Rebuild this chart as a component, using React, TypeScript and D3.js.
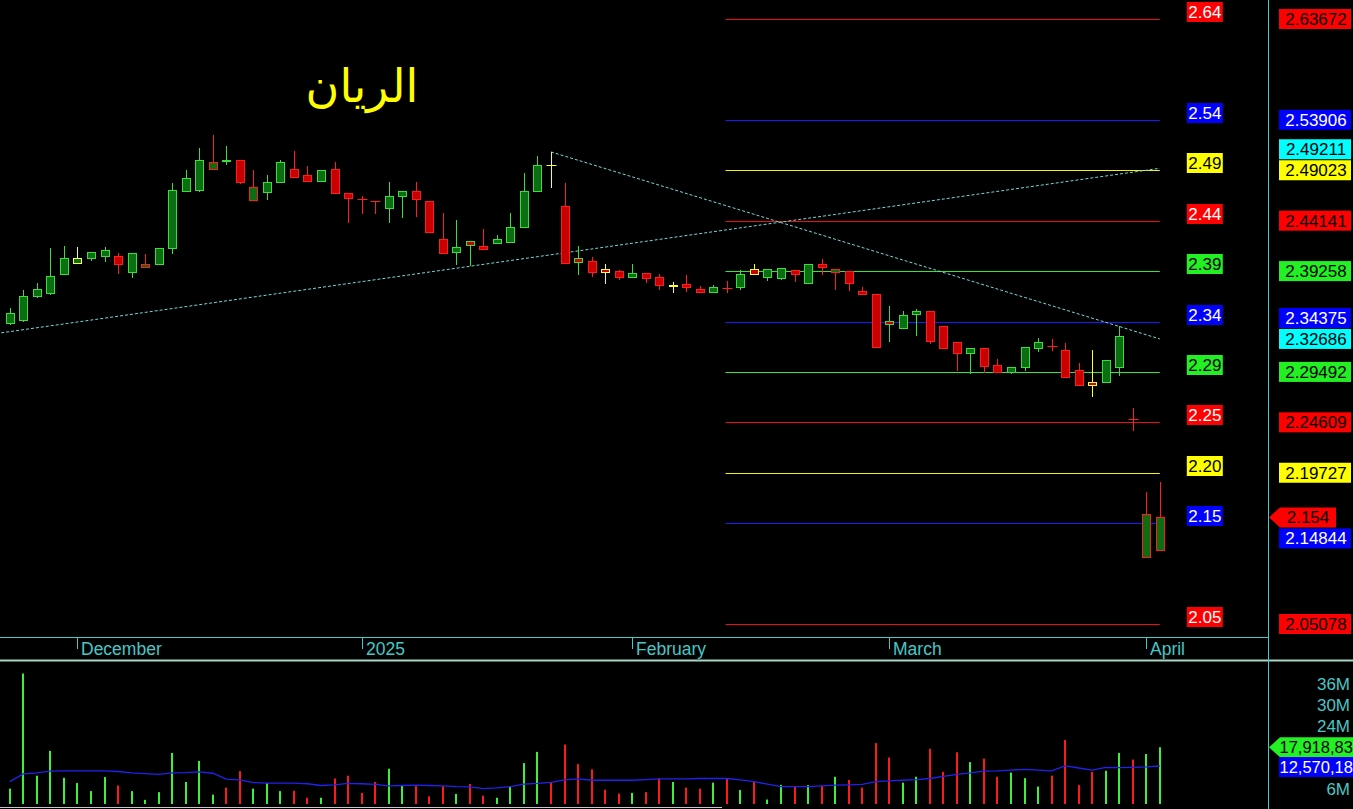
import React, { useEffect } from "react";
import * as d3 from "d3";

const W = 1353;
const H = 809;

// Daily OHLC, oldest first
const opens = [
  2.342, 2.345, 2.368, 2.371, 2.39, 2.4, 2.405, 2.407, 2.407, 2.392,
  2.397, 2.399, 2.415, 2.47, 2.471, 2.491, 2.5, 2.5, 2.461, 2.469,
  2.479, 2.491, 2.486, 2.48, 2.491, 2.468, 2.462, 2.46, 2.454, 2.465,
  2.47, 2.46, 2.424, 2.411, 2.422, 2.417, 2.42, 2.421, 2.435, 2.47,
  2.495, 2.456, 2.405, 2.402, 2.395, 2.393, 2.387, 2.391, 2.387, 2.378,
  2.38, 2.375, 2.372, 2.376, 2.377, 2.395, 2.387, 2.386, 2.394, 2.381,
  2.399, 2.392, 2.393, 2.373, 2.37, 2.344, 2.337, 2.351, 2.354, 2.339,
  2.324, 2.313, 2.318, 2.302, 2.295, 2.3, 2.318, 2.32, 2.316, 2.297,
  2.285, 2.285, 2.3, 2.249, 2.116, 2.122,
];
const highs = [
  2.357, 2.374, 2.381, 2.415, 2.417, 2.416, 2.411, 2.416, 2.41, 2.41,
  2.409, 2.415, 2.478, 2.49, 2.512, 2.524, 2.514, 2.5, 2.49, 2.486,
  2.5, 2.509, 2.494, 2.49, 2.498, 2.468, 2.465, 2.46, 2.479, 2.47,
  2.479, 2.46, 2.449, 2.442, 2.422, 2.433, 2.428, 2.449, 2.488, 2.504,
  2.508, 2.478, 2.417, 2.406, 2.399, 2.394, 2.399, 2.391, 2.39, 2.382,
  2.389, 2.378, 2.379, 2.383, 2.394, 2.399, 2.395, 2.396, 2.394, 2.399,
  2.404, 2.395, 2.393, 2.377, 2.37, 2.359, 2.354, 2.356, 2.354, 2.339,
  2.324, 2.318, 2.318, 2.307, 2.3, 2.319, 2.328, 2.327, 2.323, 2.304,
  2.316, 2.306, 2.339, 2.26, 2.179, 2.188,
];
const lows = [
  2.341, 2.344, 2.367, 2.37, 2.39, 2.4, 2.403, 2.402, 2.391, 2.387,
  2.397, 2.399, 2.41, 2.47, 2.47, 2.491, 2.496, 2.478, 2.461, 2.462,
  2.479, 2.484, 2.48, 2.48, 2.468, 2.44, 2.449, 2.449, 2.44, 2.445,
  2.446, 2.43, 2.41, 2.399, 2.398, 2.414, 2.42, 2.421, 2.435, 2.47,
  2.474, 2.4, 2.39, 2.388, 2.381, 2.385, 2.387, 2.382, 2.375, 2.372,
  2.373, 2.372, 2.372, 2.372, 2.375, 2.39, 2.384, 2.385, 2.383, 2.381,
  2.39, 2.375, 2.374, 2.37, 2.319, 2.325, 2.337, 2.331, 2.323, 2.318,
  2.297, 2.294, 2.295, 2.295, 2.294, 2.297, 2.315, 2.316, 2.29, 2.282,
  2.272, 2.285, 2.292, 2.239, 2.116, 2.122,
];
const closes = [
  2.352, 2.368, 2.375, 2.388, 2.405, 2.405, 2.411, 2.413, 2.399, 2.41,
  2.399, 2.415, 2.471, 2.483, 2.5, 2.498, 2.499, 2.479, 2.474, 2.479,
  2.498, 2.484, 2.48, 2.49, 2.468, 2.463, 2.462, 2.46, 2.465, 2.47,
  2.462, 2.43, 2.41, 2.416, 2.418, 2.414, 2.424, 2.435, 2.47, 2.495,
  2.495, 2.4, 2.401, 2.392, 2.392, 2.387, 2.391, 2.386, 2.379, 2.379,
  2.377, 2.372, 2.377, 2.376, 2.39, 2.39, 2.395, 2.396, 2.39, 2.399,
  2.397, 2.395, 2.381, 2.37, 2.319, 2.341, 2.35, 2.354, 2.325, 2.318,
  2.313, 2.318, 2.301, 2.295, 2.3, 2.319, 2.324, 2.32, 2.29, 2.282,
  2.282, 2.306, 2.33, 2.249, 2.157, 2.154,
];

// Daily traded volume, millions of shares
const volumes = [
  6.1, 39.0, 9.8, 16.9, 9.2, 7.7, 5.4, 9.4, 7.0, 5.4,
  2.9, 5.1, 16.3, 8.0, 14.0, 4.4, 6.4, 11.1, 6.1, 7.7,
  5.4, 5.5, 3.5, 3.5, 9.0, 9.8, 4.9, 8.0, 11.8, 6.9,
  6.8, 3.9, 6.8, 4.6, 7.4, 4.1, 3.5, 6.7, 13.4, 16.6,
  7.7, 18.7, 13.1, 11.6, 5.8, 4.7, 4.9, 5.1, 9.0, 8.0,
  6.4, 6.1, 7.8, 8.9, 5.7, 8.1, 3.0, 7.2, 6.9, 7.1,
  6.9, 9.5, 8.6, 6.4, 19.1, 15.0, 7.8, 9.5, 17.5, 10.9,
  16.5, 13.7, 14.7, 9.5, 10.7, 9.1, 6.7, 9.8, 20.0, 7.1,
  10.9, 11.2, 16.3, 14.4, 16.0, 17.91883,
];

// Moving average of volume, millions of shares
const volumeAvg = [
  8.1, 10.3, 10.6, 11.1, 11.2, 11.2, 11.2, 11.2, 11.0, 10.6,
  10.4, 10.2, 10.6, 10.7, 10.9, 10.5, 8.8, 8.6, 7.8, 7.7,
  7.7, 7.7, 7.5, 7.0, 7.2, 7.6, 7.5, 7.3, 6.9, 7.0,
  7.1, 7.0, 6.9, 6.7, 6.6, 6.1, 6.3, 6.7, 7.4, 7.6,
  7.9, 8.6, 8.9, 8.5, 8.5, 8.5, 8.5, 8.7, 8.9, 8.9,
  8.9, 9.0, 9.0, 9.0, 8.6, 8.1, 7.4, 6.7, 6.7, 6.7,
  6.9, 7.1, 7.2, 7.3, 8.1, 8.3, 8.5, 8.7, 9.0, 9.6,
  10.2, 10.6, 11.1, 11.2, 11.4, 11.6, 11.4, 11.2, 12.6, 12.0,
  11.4, 12.2, 12.1, 12.2, 12.3, 12.57018,
];

// Horizontal price levels and their colour keys
const levels = [
  2.63672, 2.53906, 2.49023, 2.44141, 2.39258, 2.34375, 2.29492, 2.24609,
  2.19727, 2.14844, 2.05078,
];
const levelKeys = [
  "red", "blue", "yellow", "red", "green", "blue", "green", "red",
  "yellow", "blue", "red",
];
const levelStart = 52.9;

// Trend lines: [bar index, price]
const supportLine = [[-1, 2.3321], [85, 2.49211]];
const resistanceLine = [[40, 2.508], [85, 2.32686]];

const monthTicks = [5, 26, 46, 65, 84];
const monthLabels = ["December", "2025", "February", "March", "April"];
const volumeTicks = [6, 24, 30, 36];

const title = "الريان";

const lineColor: Record<string, string> = {
  red: "#e81010",
  blue: "#1a1aff",
  yellow: "#f4f400",
  green: "#33e833",
  cyan: "#00ffff",
};
const boxColor: Record<string, string> = {
  red: "#ff0000",
  blue: "#0000ff",
  yellow: "#ffff00",
  green: "#22f022",
  cyan: "#00ffff",
};
const inkOnBox: Record<string, string> = {
  red: "#ffffff",
  blue: "#ffffff",
  yellow: "#000000",
  green: "#000000",
  cyan: "#000000",
};

const AXIS = "#45c8c8";
const UP = "#3ddc3d";
const DOWN = "#ff1e1e";
const SAME = "#ffff33";
const UP_FILL = "#0b6e12";
const DOWN_FILL = "#c80000";
const FONT = "'Liberation Sans', Arial, sans-serif";

export default function App() {
  useEffect(() => {
    document.body.style.margin = "0";
    document.body.style.background = "#000";
  }, []);

  const n = closes.length;
  const x = d3.scaleLinear().domain([0, n - 1]).range([9.8, 1159.8]);
  const y = d3.scaleLinear().domain([2.05078, 2.63672]).range([624, 19]);
  const yv = d3.scaleLinear().domain([0, 36]).range([810, 684]);
  const px = (i: number) => Math.round(x(i)) + 0.5;

  const lastClose = closes[n - 1];
  const lastVol = volumes[n - 1];
  const lastAvg = volumeAvg[n - 1];

  const trendAt = (line: number[][], i: number) => {
    const [[i0, p0], [i1, p1]] = line;
    return p0 + ((p1 - p0) * (i - i0)) / (i1 - i0);
  };

  // Right-hand price tags, nudged apart where they collide
  const TAG_H = 21;
  const tags: { v: number; key: string; text: string; cy: number }[] = [];
  levels.forEach((v, k) =>
    tags.push({ v, key: levelKeys[k], text: d3.format(".5f")(v), cy: y(v) })
  );
  [supportLine, resistanceLine].forEach((ln) => {
    const v = trendAt(ln, n - 1);
    tags.push({ v, key: "cyan", text: d3.format(".5f")(v), cy: y(v) });
  });
  const placed: number[] = [y(lastClose)];
  tags
    .sort((a, b) => b.cy - a.cy)
    .forEach((t) => {
      const target = t.cy;
      let pos = target;
      for (let guard = 0; guard < 10; guard++) {
        const hit = placed.find((p) => Math.abs(p - pos) < TAG_H - 0.01);
        if (hit === undefined) break;
        pos = target < hit ? hit - TAG_H : hit + TAG_H;
      }
      t.cy = pos;
      placed.push(pos);
    });

  const volLine = d3
    .line<number>()
    .x((_, i) => x(i))
    .y((d) => yv(d))
    .curve(d3.curveLinear);

  const trendPath = (ln: number[][]) =>
    `M${x(ln[0][0])},${y(ln[0][1])}L${x(ln[1][0])},${y(ln[1][1])}`;

  const priceY = y(lastClose);
  const volY = yv(lastVol);
  const avgY = yv(lastAvg);

  // the volume tags sit against the window edge and only show what fits
  const fitTag = (v: number) => d3.format(",")(Math.round(v * 1e6)).slice(0, 9);

  return (
    <div style={{ position: "fixed", left: 0, top: 0, width: W, height: H, background: "#000" }}>
      <svg width={W} height={H} style={{ display: "block", fontFamily: FONT }}>
        <rect width={W} height={H} fill="#000" />
        <defs>
          <clipPath id="volClip">
            <rect x={0} y={662} width={1268} height={142} />
          </clipPath>
        </defs>

        {/* title */}
        <text
          x={362}
          y={102}
          textAnchor="middle"
          fill="#ffff00"
          fontSize={46}
          fontFamily="'DejaVu Sans', sans-serif"
        >
          {title}
        </text>

        {/* level lines */}
        {levels.map((v, k) => (
          <line
            key={`lv${k}`}
            x1={x(levelStart)}
            x2={x(n - 1)}
            y1={Math.round(y(v)) + 0.5}
            y2={Math.round(y(v)) + 0.5}
            stroke={lineColor[levelKeys[k]]}
            strokeWidth={1}
          />
        ))}

        {/* trend lines */}
        {[supportLine, resistanceLine].map((ln, k) => (
          <path
            key={`tr${k}`}
            d={trendPath(ln)}
            stroke="#7ad6d6"
            strokeWidth={1}
            strokeDasharray="3 2"
            fill="none"
          />
        ))}

        {/* candles */}
        {closes.map((c, i) => {
          const o = opens[i];
          const prev = i > 0 ? closes[i - 1] : o;
          const edge = c > prev ? UP : c < prev ? DOWN : SAME;
          const cx = px(i);
          const top = Math.round(y(Math.max(o, c)));
          const bot = Math.round(y(Math.min(o, c)));
          return (
            <g key={`c${i}`}>
              <line
                x1={cx}
                x2={cx}
                y1={Math.round(y(highs[i]))}
                y2={Math.round(y(lows[i])) + 1}
                stroke={edge}
              />
              {o === c ? (
                <line x1={cx - 5} x2={cx + 5} y1={top + 0.5} y2={top + 0.5} stroke={edge} />
              ) : (
                <rect
                  x={cx - 4}
                  y={top + 0.5}
                  width={8}
                  height={Math.max(bot - top, 1)}
                  fill={c > o ? UP_FILL : DOWN_FILL}
                  stroke={edge}
                  strokeWidth={1}
                />
              )}
            </g>
          );
        })}

        {/* left level tags */}
        {levels.map((v, k) => {
          const ly = Math.round(y(v));
          const key = levelKeys[k];
          return (
            <g key={`lt${k}`}>
              <rect x={x(n - 1) + 27} y={ly - 17} width={36} height={20} fill={boxColor[key]} />
              <text
                x={x(n - 1) + 45}
                y={ly - 1}
                textAnchor="middle"
                fontSize={17}
                fill={inkOnBox[key]}
              >
                {d3.format(".2f")(v)}
              </text>
            </g>
          );
        })}

        {/* time axis */}
        <line x1={0} x2={1268} y1={637.5} y2={637.5} stroke={AXIS} />
        {monthTicks.map((t, k) => (
          <g key={`mt${k}`}>
            <line x1={px(t)} x2={px(t)} y1={638} y2={649} stroke={AXIS} />
            <text x={px(t) + 3.5} y={655} fontSize={17.5} fill={AXIS}>
              {monthLabels[k]}
            </text>
          </g>
        ))}
        <line x1={0} x2={W} y1={660.5} y2={660.5} stroke="#a9d6c4" strokeWidth={2} />

        {/* volume */}
        <g clipPath="url(#volClip)">
          {volumes.map((v, i) => (
            <rect
              key={`v${i}`}
              x={Math.round(x(i)) - 1}
              y={yv(v)}
              width={2}
              height={yv(0) - yv(v)}
              fill={closes[i] > opens[i] ? "#3cf03c" : "#ff1a1a"}
            />
          ))}
          <path d={volLine(volumeAvg) || ""} fill="none" stroke="#2222ee" strokeWidth={1.3} />
        </g>
        <line x1={0} x2={722} y1={807.5} y2={807.5} stroke="#c8c8c8" />

        {/* right axis */}
        <line x1={1268.5} x2={1268.5} y1={0} y2={H} stroke={AXIS} />

        {tags.map((t, k) => (
          <g key={`rt${k}`}>
            <rect x={1279} y={t.cy - 10} width={72} height={20} fill={boxColor[t.key]} />
            <text
              x={1316}
              y={t.cy + 6}
              textAnchor="middle"
              fontSize={17}
              fill={t.key === "blue" ? "#ffffff" : "#000000"}
            >
              {t.text}
            </text>
          </g>
        ))}

        {/* last price tag */}
        <path
          d={`M1269,${priceY}L1280,${priceY - 10}L1336,${priceY - 10}L1336,${priceY + 10}L1280,${priceY + 10}Z`}
          fill="#ff0000"
        />
        <text x={1308} y={priceY + 6} textAnchor="middle" fontSize={17} fill="#000">
          {d3.format(".3f")(lastClose)}
        </text>

        {/* volume axis */}
        {volumeTicks.map((t) => (
          <text key={`vt${t}`} x={1350} y={yv(t) + 6} textAnchor="end" fontSize={17} fill={AXIS}>
            {`${t}M`}
          </text>
        ))}
        <path
          d={`M1269,${volY}L1280,${volY - 10}L${W},${volY - 10}L${W},${volY + 10}L1280,${volY + 10}Z`}
          fill="#22f022"
        />
        <text x={1279.5} y={volY + 6} fontSize={16.5} fill="#000">
          {fitTag(lastVol)}
        </text>
        <rect x={1279} y={avgY - 9} width={W - 1279} height={20} fill="#0000ff" />
        <text x={1279.5} y={avgY + 7} fontSize={16.5} fill="#fff">
          {fitTag(lastAvg)}
        </text>
      </svg>
    </div>
  );
}
